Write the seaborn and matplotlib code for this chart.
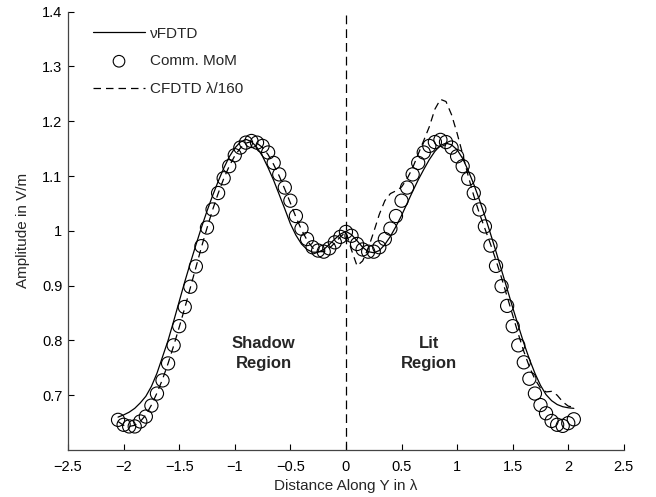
import numpy as np
import pandas as pd
import matplotlib
matplotlib.use("Agg")
import matplotlib.pyplot as plt
import seaborn as sns

# sample positions (lambda)
x_grid = [-2.05, -2.00, -1.95, -1.90, -1.85, -1.80, -1.75, -1.70, -1.65, -1.60,
          -1.55, -1.50, -1.45, -1.40, -1.35, -1.30, -1.25, -1.20, -1.15, -1.10,
          -1.05, -1.00, -0.95, -0.90, -0.85, -0.80, -0.75, -0.70, -0.65, -0.60,
          -0.55, -0.50, -0.45, -0.40, -0.35, -0.30, -0.25, -0.20, -0.15, -0.10,
          -0.05, 0.00, 0.05, 0.10, 0.15, 0.20, 0.25, 0.30, 0.35, 0.40,
          0.45, 0.50, 0.55, 0.60, 0.65, 0.70, 0.75, 0.80, 0.85, 0.90,
          0.95, 1.00, 1.05, 1.10, 1.15, 1.20, 1.25, 1.30, 1.35, 1.40,
          1.45, 1.50, 1.55, 1.60, 1.65, 1.70, 1.75, 1.80, 1.85, 1.90,
          1.95, 2.00, 2.05]

mom_y = [0.655, 0.646, 0.643, 0.643, 0.652, 0.661, 0.681, 0.703, 0.727, 0.758,
         0.791, 0.826, 0.861, 0.898, 0.935, 0.972, 1.006, 1.039, 1.069, 1.096,
         1.118, 1.138, 1.152, 1.161, 1.164, 1.161, 1.155, 1.143, 1.124, 1.103,
         1.079, 1.055, 1.027, 1.004, 0.985, 0.970, 0.964, 0.962, 0.968, 0.979,
         0.989, 0.998,
         0.991, 0.976, 0.966, 0.962, 0.962, 0.970, 0.985, 1.004, 1.027, 1.055,
         1.079, 1.103, 1.124, 1.143, 1.155, 1.162, 1.166, 1.162, 1.152, 1.136,
         1.118, 1.095, 1.069, 1.039, 1.008, 0.973, 0.936, 0.899, 0.863, 0.826,
         0.791, 0.760, 0.730, 0.703, 0.682, 0.667, 0.653, 0.646, 0.644, 0.649,
         0.656]

vfdtd_y = [0.660, 0.664, 0.669, 0.676, 0.686, 0.698, 0.716, 0.740, 0.770, 0.800,
           0.835, 0.871, 0.907, 0.941, 0.974, 1.006, 1.036, 1.064, 1.090, 1.114,
           1.135, 1.151, 1.162, 1.167, 1.163, 1.152, 1.136, 1.115, 1.092, 1.066,
           1.040, 1.013, 0.992, 0.976, 0.966, 0.961, 0.961, 0.966, 0.975, 0.985,
           0.994, 0.999,
           0.993, 0.982, 0.970, 0.962, 0.960, 0.964, 0.975, 0.990, 1.008, 1.028,
           1.050, 1.072, 1.093, 1.112, 1.130, 1.145, 1.156, 1.160, 1.157, 1.148,
           1.132, 1.110, 1.085, 1.057, 1.027, 0.995, 0.962, 0.928, 0.894, 0.860,
           0.827, 0.795, 0.766, 0.740, 0.718, 0.701, 0.690, 0.683, 0.679, 0.677,
           0.676]

cfdtd_y = [0.652, 0.645, 0.643, 0.645, 0.652, 0.664, 0.682, 0.704, 0.729, 0.758,
           0.790, 0.824, 0.859, 0.896, 0.933, 0.970, 1.005, 1.038, 1.068, 1.095,
           1.118, 1.137, 1.151, 1.160, 1.163, 1.160, 1.152, 1.139, 1.121, 1.100,
           1.076, 1.051, 1.025, 1.002, 0.983, 0.969, 0.962, 0.962, 0.968, 0.978,
           0.989, 0.998,
           0.965, 0.936, 0.945, 0.968, 0.998, 1.030, 1.055, 1.068, 1.073, 1.080,
           1.095, 1.115, 1.140, 1.165, 1.190, 1.222, 1.240, 1.236, 1.212, 1.178,
           1.140, 1.100, 1.064, 1.032, 1.004, 0.976, 0.946, 0.914, 0.880, 0.846,
           0.812, 0.780, 0.752, 0.729, 0.713, 0.706, 0.707, 0.700, 0.688, 0.680,
           0.678]

x_ticks = [-2.5, -2, -1.5, -1, -0.5, 0, 0.5, 1, 1.5, 2, 2.5]
x_ticklabels = ["\u22122.5", "\u22122", "\u22121.5", "\u22121", "\u22120.5", "0",
                "0.5", "1", "1.5", "2", "2.5"]
y_ticks = [0.7, 0.8, 0.9, 1.0, 1.1, 1.2, 1.3, 1.4]
y_ticklabels = ["0.7", "0.8", "0.9", "1", "1.1", "1.2", "1.3", "1.4"]

sns.set_style("ticks")
plt.rcParams["font.family"] = ["Liberation Sans", "DejaVu Sans"]
plt.rcParams["xtick.direction"] = "in"
plt.rcParams["ytick.direction"] = "in"

df = pd.DataFrame({"x": x_grid, "mom": mom_y, "vfdtd": vfdtd_y, "cfdtd": cfdtd_y})

fig = plt.figure(figsize=(6.56, 4.97), dpi=100)
ax = fig.add_axes([0.1037, 0.0946, 0.8473, 0.8819])

sns.lineplot(data=df, x="x", y="vfdtd", ax=ax, color="black", linewidth=0.9,
             label="\u03bdFDTD", sort=False)
sns.scatterplot(data=df, x="x", y="mom", ax=ax, marker="o", s=90,
                facecolor="none", edgecolor="black", linewidth=0.8,
                label="Comm. MoM")
sns.lineplot(data=df, x="x", y="cfdtd", ax=ax, color="black", linewidth=0.9,
             label="CFDTD \u03bb/160", sort=False)
ax.lines[-1].set_dashes([6, 4])
ax.axvline(0, color="black", linewidth=0.9, dashes=[7, 4])

ax.set_xlim(-2.5, 2.5)
ax.set_ylim(0.6, 1.4)
ax.set_xticks(x_ticks)
ax.set_xticklabels(x_ticklabels, fontsize=10.5)
ax.set_yticks(y_ticks)
ax.set_yticklabels(y_ticklabels, fontsize=10.5)
ax.tick_params(length=4, width=0.8, colors="black")
ax.tick_params(axis="x", pad=7)
ax.tick_params(axis="y", pad=4)
for s in ["top", "right"]:
    ax.spines[s].set_visible(False)
for s in ["left", "bottom"]:
    ax.spines[s].set_color("#444444")
    ax.spines[s].set_linewidth(0.9)

ax.set_xlabel("Distance Along Y in \u03bb", fontsize=11, labelpad=4)
ax.set_ylabel("Amplitude in V/m", fontsize=11, labelpad=9)

ax.text(-0.74, 0.776, "Shadow\nRegion", ha="center", va="center",
        fontsize=12, fontweight="bold", linespacing=1.4)
ax.text(0.75, 0.776, "Lit\nRegion", ha="center", va="center",
        fontsize=12, fontweight="bold", linespacing=1.4)

leg = ax.legend(loc="upper left", bbox_to_anchor=(0.012, 1.008), frameon=False,
                fontsize=11, handlelength=3.4, handletextpad=0.35,
                labelspacing=0.9, borderaxespad=0.8)
for h in leg.legend_handles:
    try:
        h.set_sizes([70])
    except Exception:
        pass

fig.savefig("out.png", dpi=100)
